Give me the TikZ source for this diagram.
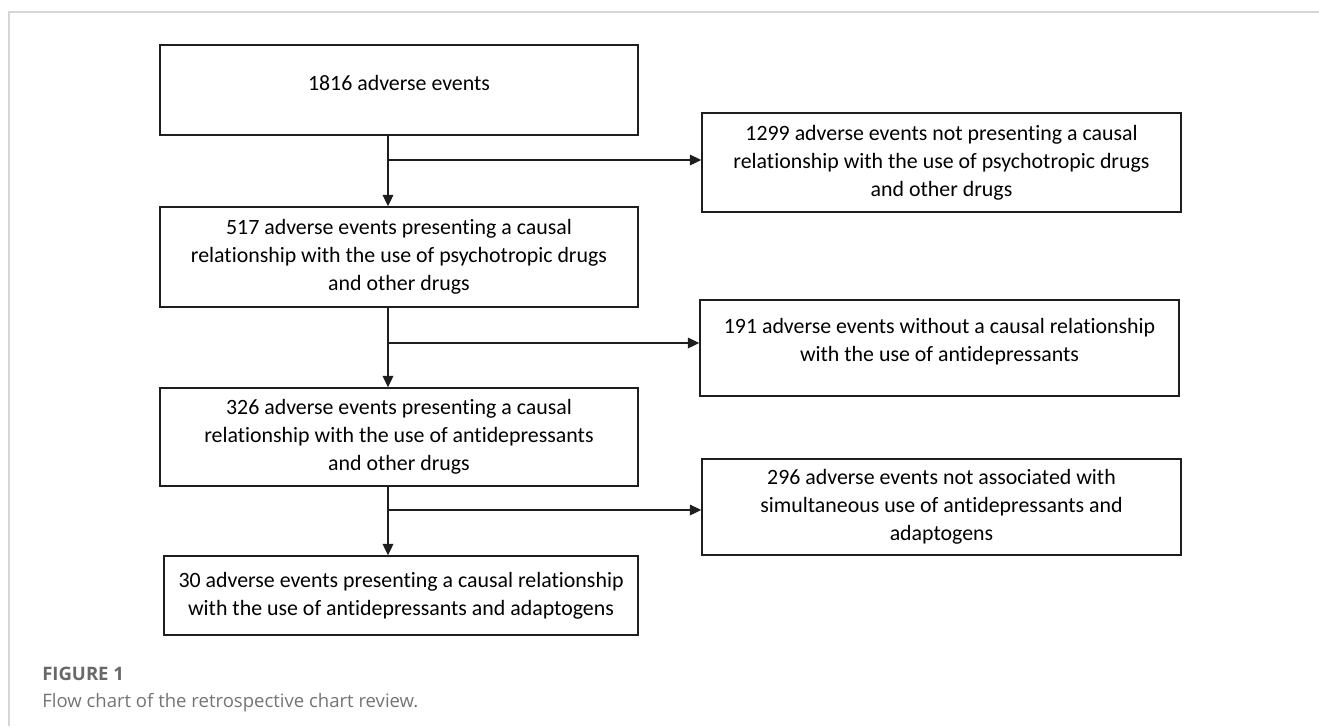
\documentclass[tikz,border=0pt]{standalone}
\usepackage{fontspec}
\setmainfont{Carlito}[Ligatures=NoCommon]
\newfontfamily\capfont{Open Sans}
\usetikzlibrary{arrows.meta}
\definecolor{boxline}{HTML}{1E1E1E}
\definecolor{framegray}{HTML}{D6D6D6}
\definecolor{capgray}{HTML}{747474}

\begin{document}
\begin{tikzpicture}[x=0.75pt, y=-0.75pt,
  evbox/.style={draw=boxline, line width=1.15pt, align=center, inner sep=0pt, font=\fontsize{16.4}{21}\selectfont},
  flow/.style={draw=boxline, line width=0.9pt, -{Triangle[length=8.5pt,width=8pt]}},
  figcap/.style={anchor=base west, inner sep=0pt, text=capgray, font=\capfont\fontsize{13.9}{16}\selectfont}]
\useasboundingbox (0,0) rectangle (1319,726);
\draw[framegray, line width=1.1pt] (9,726) -- (9,12) -- (1319,12);

\node[evbox, minimum width=358.5pt, minimum height=67.5pt] (all) at (399,90) {1816 adverse events\\[-10.5pt]};
\node[evbox, minimum width=359.25pt, minimum height=74.25pt] (nopsy) at (941.5,162.5) {1299 adverse events not presenting a causal\\relationship with the use of psychotropic drugs\\and other drugs};
\node[evbox, minimum width=358.5pt, minimum height=75pt] (psy) at (399,257) {517 adverse events presenting a causal\\relationship with the use of psychotropic drugs\\and other drugs};
\node[evbox, minimum width=359.25pt, minimum height=72pt] (noad) at (939.5,348) {191 adverse events without a causal relationship\\with the use of antidepressants\\[-9pt]};
\node[evbox, minimum width=358.5pt, minimum height=73.5pt] (ad) at (399,437) {326 adverse events presenting a causal\\relationship with the use of antidepressants\\and other drugs};
\node[evbox, minimum width=359.25pt, minimum height=72pt] (noadapt) at (941.5,507) {296 adverse events not associated with\\simultaneous use of antidepressants and\\adaptogens};
\node[evbox, minimum width=355.5pt, minimum height=59.25pt] (adapt) at (401,595.5) {30 adverse events presenting a causal relationship\\with the use of antidepressants and adaptogens};

\coordinate (j1) at (388,160);
\coordinate (j2) at (388,343);
\coordinate (j3) at (388,510);

\draw[flow] (all.south -| j1) -- (psy.north -| j1);
\draw[flow] (j1) -- (j1 -| nopsy.west);
\draw[flow] (psy.south -| j2) -- (ad.north -| j2);
\draw[flow] (j2) -- (j2 -| noad.west);
\draw[flow] (ad.south -| j3) -- (adapt.north -| j3);
\draw[flow] (j3) -- (j3 -| noadapt.west);

\node[figcap, text=capgray!90!black, font=\capfont\bfseries\fontsize{13.9}{16}\selectfont] (fignum) at (42,680) {FIGURE 1};
\node[figcap] (figtext) at (42,707) {Flow chart of the retrospective chart review.};
\end{tikzpicture}
\end{document}
